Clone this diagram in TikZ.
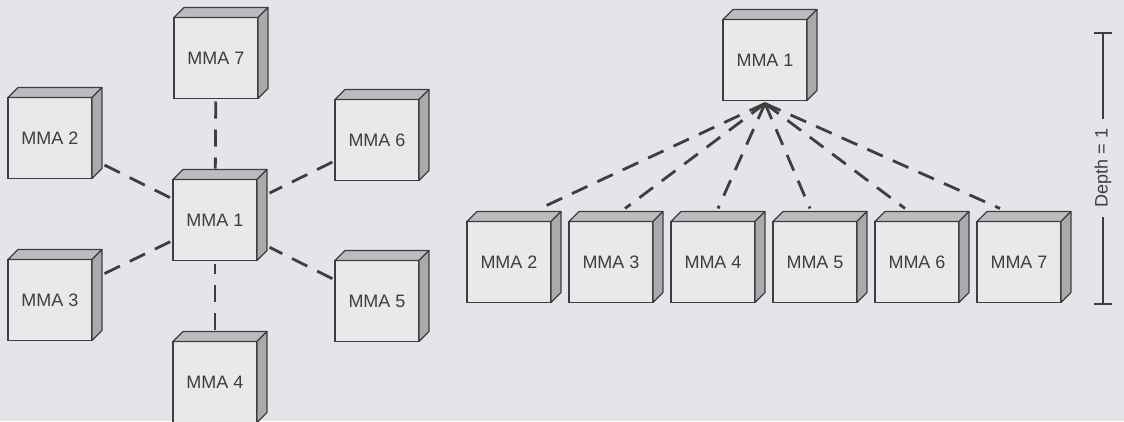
\documentclass[tikz,border=0pt]{standalone}
\usepackage{fontspec}
\setmainfont{Liberation Sans}
\newlength{\px}
\setlength{\px}{1pt}
\definecolor{paper}{RGB}{229,229,233}
\definecolor{face}{RGB}{233,233,236}
\definecolor{ink}{RGB}{62,62,64}
\definecolor{topgray}{RGB}{188,188,190}
\definecolor{sidegray}{RGB}{170,170,172}
\newcommand\mmacube[1]{%
  \filldraw[topface] (#1.north west) -- ++(10,-10) -- ++(84,0) -- (#1.north east) -- cycle;
  \filldraw[sideface] (#1.north east) -- ++(10,-10) -- ++(0,81) -- (#1.south east) -- cycle;
}

\begin{document}
\begin{tikzpicture}[x=\px,y=-\px,
    mma/.style={draw=ink,fill=face,line width=1.1pt,minimum width=84\px,minimum height=81\px,
      inner sep=0pt,outer sep=0pt,text=ink,font=\fontsize{18}{20}\selectfont},
    topface/.style={draw=ink,fill=topgray,line width=1.1pt,line join=round},
    sideface/.style={draw=ink,fill=sidegray,line width=1.1pt,line join=round},
    link/.style={draw=ink,line width=2.8pt,dash pattern=on 17pt off 11pt}]
        \useasboundingbox (0,0) rectangle (1124,421);
        \fill[paper] (0,0) rectangle (1124,421);

        %star layout
        \foreach \n/\loc in {1/{215,220},2/{50,138},3/{50,300},4/{215,382},5/{377,301},6/{377,140},7/{216,58}}{
          \node[mma] (s\n) at (\loc) {MMA \n};
          \mmacube{s\n}
        }
        \foreach \n/\a/\b in {2/14/3,3/14/3,4/12/3,5/3/14,6/3/14,7/3/11}{
          \draw[link,shorten <=\a pt,shorten >=\b pt] (s\n) -- (s1);
        }

        %tree layout, depth one
        \node[mma] (t1) at (765,60) {MMA 1};
        \mmacube{t1}
        \foreach \n/\x/\dx in {2/509/31,3/611/14,4/713/5,5/815/-5,6/917/-12,7/1019/-19}{
          \node[mma] (t\n) at (\x,262) {MMA \n};
          \mmacube{t\n}
          \draw[link] ([yshift=-3pt]t1.south) -- ([xshift=\dx pt,yshift=13pt]t\n.north);
        }

        %depth bracket
        \coordinate (dtop) at (1103,33);
        \coordinate (dbot) at (1103,304);
        \node[rotate=90,inner xsep=10pt,text=ink,font=\fontsize{18}{20}\selectfont] (dlabel) at (1103,168) {Depth = 1};
        \draw[ink,line width=1.1pt] (dtop) -- (dlabel) (dlabel) -- (dbot);
        \draw[ink,line width=1.1pt] ([xshift=-9pt]dtop) -- ([xshift=9pt]dtop);
        \draw[ink,line width=1.1pt] ([xshift=-9pt]dbot) -- ([xshift=9pt]dbot);
      \end{tikzpicture}
\end{document}
